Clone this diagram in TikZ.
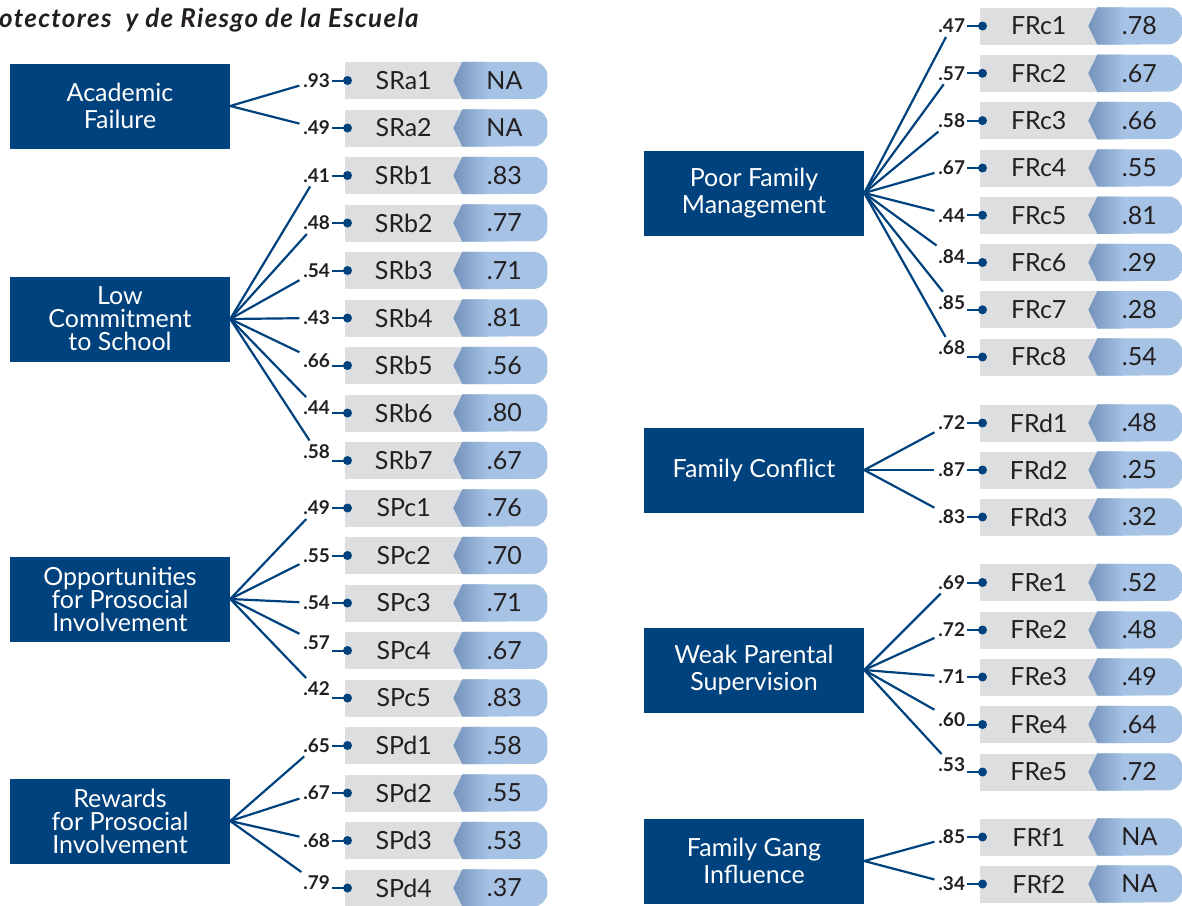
\documentclass[tikz,border=0pt]{standalone}
\usepackage{fontspec}
\setmainfont{Lato}
\newfontfamily\ttlfont[LetterSpace=5]{Lato}
\usepackage{tikz}
\usetikzlibrary{positioning}

\definecolor{navy}{RGB}{0,66,125}
\definecolor{itemgray}{RGB}{221,222,224}
\definecolor{tablight}{RGB}{166,195,229}
\definecolor{tabdark}{RGB}{116,146,187}
\definecolor{ink}{RGB}{35,31,32}

\tikzset{
  fac/.style={rectangle, minimum width=220pt, minimum height=85pt, inner sep=0pt, align=center, fill=navy, text=white, font=\fontsize{25}{27}\selectfont},
  fac3/.style={fac, font=\fontsize{25}{23}\selectfont},
  itm/.style={rectangle, minimum width=117pt, minimum height=37pt, inner sep=0pt, anchor=west, fill=itemgray, text=ink, font=\fontsize{25}{27}\selectfont},
  val/.style={inner sep=0pt, text=ink, font=\fontsize{25}{27}\selectfont},
  ld/.style={inner sep=1pt, outer sep=3pt, anchor=east, text=ink, font=\bfseries\fontsize{19}{21}\selectfont},
  ttl/.style={inner sep=0pt, anchor=base west, text=ink, font=\ttlfont\bfseries\itshape\fontsize{26}{28}\selectfont},
  link/.style={navy, line width=2.2pt},
  tick/.style={navy, line width=2pt}
}

% one indicator row: name, x, y, item, value, loading, raise of loading
\newcommand{\itm}[7]{%
  \node (#1) [itm] at (#2,#3) {#4};
  \fill [tablight] (#1.north east) {[rounded corners=14pt] -- ++(85pt,0pt) -- ++(0pt,-37pt)} -- (#1.south east) -- ([xshift=-9pt]#1.east) -- cycle;
  \shade [left color=tabdark, right color=tablight] ([xshift=-9pt]#1.east) -- (#1.north east) -- ([xshift=26pt]#1.north east) -- ([xshift=26pt]#1.south east) -- (#1.south east) -- cycle;
  \node (#1-v) [val] at ([xshift=42pt]#1.east) {#5};
  \draw [tick] ([xshift=-13pt]#1.west) -- (#1.west);
  \fill [navy] ([xshift=2.5pt]#1.west) circle (4.5pt);
  \node (#1-ld) [ld] at ([xshift=-11pt, yshift=#7]#1.west) {#6};
}

\begin{document}
\begin{tikzpicture}[x=1pt, y=-1pt]

\useasboundingbox (0,0) rectangle (1182,905);

\node (title) [ttl] at (-1,27) {otectores\ \ y de Riesgo de la Escuela};

% factors
\node (af) [fac] at (120,106) {Academic\\Failure};
\node (lc) [fac3] at (120,319) {Low\\Commitment\\to School};
\node (op) [fac3] at (120,599) {Opportunities\\for Prosocial\\Involvement};
\node (rw) [fac3] at (120,821) {Rewards\\for Prosocial\\Involvement};

\node (pf) [fac] at (754,193) {Poor Family\\Management};
\node (fc) [fac] at (754,470) {Family Conflict};
\node (wp) [fac] at (754,670) {Weak Parental\\Supervision};
\node (fg) [fac] at (754,861) {Family Gang\\Influence};

% indicators
\itm{sra1}{345}{80.5}{SRa1}{NA}{.93}{0pt}
\itm{sra2}{345}{128}{SRa2}{NA}{.49}{0pt}

\itm{srb1}{345}{175.5}{SRb1}{.83}{.41}{0pt}
\itm{srb2}{345}{223}{SRb2}{.77}{.48}{0pt}
\itm{srb3}{345}{270.5}{SRb3}{.71}{.54}{0pt}
\itm{srb4}{345}{318}{SRb4}{.81}{.43}{0pt}
\itm{srb5}{345}{365.5}{SRb5}{.56}{.66}{5pt}
\itm{srb6}{345}{413}{SRb6}{.80}{.44}{5pt}
\itm{srb7}{345}{460.5}{SRb7}{.67}{.58}{9pt}

\itm{spc1}{345}{508}{SPc1}{.76}{.49}{0pt}
\itm{spc2}{345}{555.5}{SPc2}{.70}{.55}{0pt}
\itm{spc3}{345}{603}{SPc3}{.71}{.54}{0pt}
\itm{spc4}{345}{650.5}{SPc4}{.67}{.57}{8pt}
\itm{spc5}{345}{698}{SPc5}{.83}{.42}{9pt}

\itm{spd1}{345}{745.5}{SPd1}{.58}{.65}{0pt}
\itm{spd2}{345}{793}{SPd2}{.55}{.67}{0pt}
\itm{spd3}{345}{840.5}{SPd3}{.53}{.68}{0pt}
\itm{spd4}{345}{888}{SPd4}{.37}{.79}{5pt}

\itm{frc1}{980}{26}{FRc1}{.78}{.47}{0pt}
\itm{frc2}{980}{73.3}{FRc2}{.67}{.57}{0pt}
\itm{frc3}{980}{120.6}{FRc3}{.66}{.58}{0pt}
\itm{frc4}{980}{168}{FRc4}{.55}{.67}{0pt}
\itm{frc5}{980}{215.2}{FRc5}{.81}{.44}{0pt}
\itm{frc6}{980}{262.5}{FRc6}{.29}{.84}{6pt}
\itm{frc7}{980}{309.8}{FRc7}{.28}{.85}{7pt}
\itm{frc8}{980}{357}{FRc8}{.54}{.68}{9pt}

\itm{frd1}{980}{423}{FRd1}{.48}{.72}{0pt}
\itm{frd2}{980}{470}{FRd2}{.25}{.87}{0pt}
\itm{frd3}{980}{517}{FRd3}{.32}{.83}{0pt}

\itm{fre1}{980}{582.5}{FRe1}{.52}{.69}{0pt}
\itm{fre2}{980}{630}{FRe2}{.48}{.72}{0pt}
\itm{fre3}{980}{677}{FRe3}{.49}{.71}{0pt}
\itm{fre4}{980}{724.5}{FRe4}{.64}{.60}{5pt}
\itm{fre5}{980}{772}{FRe5}{.72}{.53}{7pt}

\itm{frf1}{980}{837}{FRf1}{NA}{.85}{0pt}
\itm{frf2}{980}{884}{FRf2}{NA}{.34}{0pt}

% loadings
\draw [link] (af.east) -- (sra1-ld);
\draw [link] (af.east) -- (sra2-ld);

\draw [link] (lc.east) -- (srb1-ld);
\draw [link] (lc.east) -- (srb2-ld);
\draw [link] (lc.east) -- (srb3-ld);
\draw [link] (lc.east) -- (srb4-ld);
\draw [link] (lc.east) -- (srb5-ld);
\draw [link] (lc.east) -- (srb6-ld);
\draw [link] (lc.east) -- (srb7-ld);

\draw [link] (op.east) -- (spc1-ld);
\draw [link] (op.east) -- (spc2-ld);
\draw [link] (op.east) -- (spc3-ld);
\draw [link] (op.east) -- (spc4-ld);
\draw [link] (op.east) -- (spc5-ld);

\draw [link] (rw.east) -- (spd1-ld);
\draw [link] (rw.east) -- (spd2-ld);
\draw [link] (rw.east) -- (spd3-ld);
\draw [link] (rw.east) -- (spd4-ld);

\draw [link] (pf.east) -- (frc1-ld);
\draw [link] (pf.east) -- (frc2-ld);
\draw [link] (pf.east) -- (frc3-ld);
\draw [link] (pf.east) -- (frc4-ld);
\draw [link] (pf.east) -- (frc5-ld);
\draw [link] (pf.east) -- (frc6-ld);
\draw [link] (pf.east) -- (frc7-ld);
\draw [link] (pf.east) -- (frc8-ld);

\draw [link] (fc.east) -- (frd1-ld);
\draw [link] (fc.east) -- (frd2-ld);
\draw [link] (fc.east) -- (frd3-ld);

\draw [link] (wp.east) -- (fre1-ld);
\draw [link] (wp.east) -- (fre2-ld);
\draw [link] (wp.east) -- (fre3-ld);
\draw [link] (wp.east) -- (fre4-ld);
\draw [link] (wp.east) -- (fre5-ld);

\draw [link] (fg.east) -- (frf1-ld);
\draw [link] (fg.east) -- (frf2-ld);

\end{tikzpicture}
\end{document}
